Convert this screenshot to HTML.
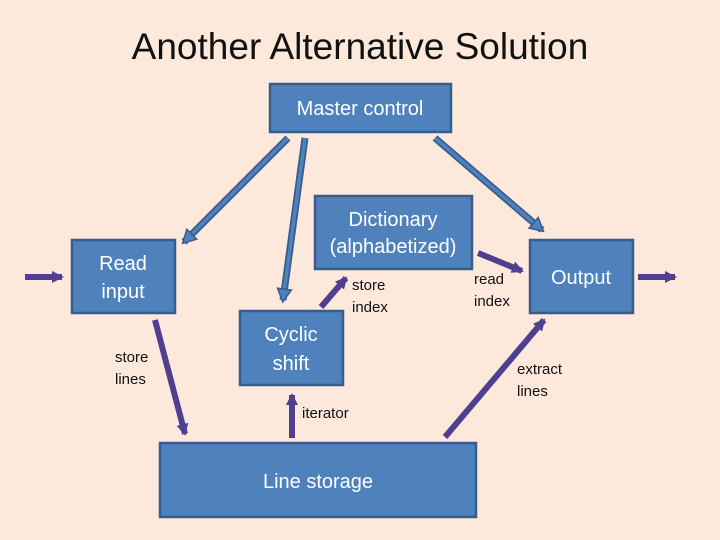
<!DOCTYPE html>
<html><head><meta charset="utf-8"><style>
body{margin:0;background:#fce9dc}
svg{display:block}
text{font-family:"Liberation Sans","DejaVu Sans",sans-serif}
</style></head><body>
<svg width="720" height="540" viewBox="0 0 720 540" xmlns="http://www.w3.org/2000/svg">
<defs>
<marker id="sp" markerUnits="userSpaceOnUse" markerWidth="14" markerHeight="14" refX="10" refY="7" orient="auto">
<path d="M0,1 L12,7 L0,13 Z" fill="#4f3f8f"/></marker>
<marker id="hb" markerUnits="userSpaceOnUse" markerWidth="18" markerHeight="18" refX="12" refY="9" orient="auto">
<path d="M1,2 L14,9 L1,16 Z" fill="#4f81bd" stroke="#385d8a" stroke-width="1.5"/></marker>
</defs>
<rect width="720" height="540" fill="#fce9dc"/>
<text x="360" y="59" font-size="37" text-anchor="middle" fill="#111">Another Alternative Solution</text>
<g fill="#4f81bd" stroke="#385d8a" stroke-width="2.5">
<rect x="270" y="84" width="181" height="48"/>
<rect x="72" y="240" width="103" height="73"/>
<rect x="315" y="196" width="157" height="73"/>
<rect x="240" y="311" width="103" height="74"/>
<rect x="530" y="240" width="103" height="73"/>
<rect x="160" y="443" width="316" height="74"/>
</g>
<g stroke="#385d8a" stroke-width="7" fill="none">
<line x1="288" y1="138" x2="184" y2="242"/>
<line x1="305" y1="138" x2="283" y2="300"/>
<line x1="435" y1="138" x2="542" y2="230"/>
</g>
<g stroke="#4f81bd" stroke-width="3.5" fill="none">
<line x1="288" y1="138" x2="184" y2="242" marker-end="url(#hb)"/>
<line x1="305" y1="138" x2="283" y2="300" marker-end="url(#hb)"/>
<line x1="435" y1="138" x2="542" y2="230" marker-end="url(#hb)"/>
</g>
<g stroke="#4f3f8f" stroke-width="6" fill="none" marker-end="url(#sp)">
<line x1="25" y1="277" x2="62" y2="277"/>
<line x1="155" y1="320" x2="185" y2="434"/>
<line x1="321" y1="307" x2="346" y2="278"/>
<line x1="292" y1="438" x2="292" y2="395"/>
<line x1="478" y1="253" x2="522" y2="271"/>
<line x1="445" y1="437" x2="544" y2="320"/>
<line x1="638" y1="277" x2="675" y2="277"/>
</g>
<g fill="#fff" font-size="20" text-anchor="middle">
<text x="360" y="115">Master control</text>
<text x="123" y="270">Read</text><text x="123" y="298">input</text>
<text x="393" y="226">Dictionary</text><text x="393" y="253">(alphabetized)</text>
<text x="291" y="341">Cyclic</text><text x="291" y="370">shift</text>
<text x="581" y="284">Output</text>
<text x="318" y="488">Line storage</text>
</g>
<g fill="#111" font-size="15">
<text x="115" y="362">store</text><text x="115" y="384">lines</text>
<text x="352" y="290">store</text><text x="352" y="312">index</text>
<text x="474" y="284">read</text><text x="474" y="306">index</text>
<text x="517" y="374">extract</text><text x="517" y="396">lines</text>
<text x="302" y="418">iterator</text>
</g>
</svg>
</body></html>
